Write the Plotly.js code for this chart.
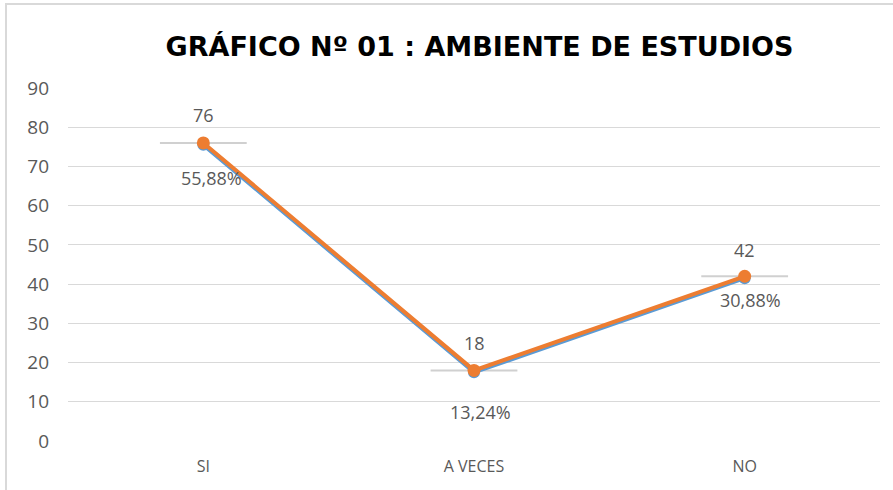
<!DOCTYPE html>
<html><head><meta charset="utf-8">
<script src="https://cdn.plot.ly/plotly-3.0.1.min.js"></script>
<style>
html,body{margin:0;padding:0;background:#fff;}
#frame{position:absolute;left:5px;top:3px;width:900px;height:500px;border-left:2px solid #d9d9d9;border-top:2px solid #d9d9d9;}
#chart{position:absolute;left:0;top:0;width:893px;height:490px;}
</style></head>
<body>
<div id="frame"></div>
<div id="chart"></div>
<script>
const categories = ["SI", "A VECES", "NO"];
const counts = [76, 18, 42];
const percentLabels = ["55,88%", "13,24%", "30,88%"];
const yTicks = [0, 10, 20, 30, 40, 50, 60, 70, 80, 90];

// label offsets (style)
const countShift = [28, 27, 26];
const pctShift = [-35, -42, -24];
const pctXShift = [8, 6, 6];

const txtColor = "#595959";
const fontFam = "Open Sans, sans-serif";
const traces = [
  {x: categories, y: counts, type: "scatter", mode: "markers", yaxis: "y",
   marker: {symbol: "line-ew-open", size: 62, color: "#d0d0d0", line: {color: "#d0d0d0", width: 2}}, hoverinfo: "skip"},
  {x: categories, y: counts, type: "scatter", mode: "lines+markers", yaxis: "y2",
   line: {color: "#5B9BD5", width: 4}, marker: {color: "#5B9BD5", size: 12}, hoverinfo: "skip"},
  {x: categories, y: counts, type: "scatter", mode: "lines+markers", yaxis: "y3",
   line: {color: "#ED7D31", width: 4}, marker: {color: "#ED7D31", size: 13}}
];

const annotations = [];
categories.forEach((c, i) => {
  annotations.push({x: c, y: counts[i], text: String(counts[i]), showarrow: false,
    yshift: countShift[i], font: {family: fontFam, size: 18, color: txtColor}});
  annotations.push({x: c, y: counts[i], text: percentLabels[i], showarrow: false,
    yshift: pctShift[i], xshift: pctXShift[i], font: {family: fontFam, size: 18, color: txtColor}});
});

const layout = {
  width: 893, height: 490,
  margin: {l: 68, r: 13, t: 88, b: 49},
  paper_bgcolor: "rgba(0,0,0,0)", plot_bgcolor: "rgba(0,0,0,0)",
  showlegend: false,
  title: {text: "<b>GRÁFICO Nº 01 : AMBIENTE DE ESTUDIOS</b>", x: 0.537, xanchor: "center", y: 0.905, yanchor: "middle",
    font: {family: "DejaVu Sans, sans-serif", size: 27, color: "#000"}},
  xaxis: {type: "category", range: [-0.5, 2.5], showgrid: false, zeroline: false, showline: false,
    ticks: "", ticklabelstandoff: 14,
    tickfont: {family: fontFam, size: 16, color: txtColor}},
  yaxis: {range: [0, 90], tickvals: yTicks, showgrid: true, gridcolor: "#d9d9d9", gridwidth: 1,
    zeroline: false, showline: false, ticks: "", ticklabelstandoff: 18,
    tickfont: {family: fontFam, size: 19, color: txtColor}},
  yaxis2: {range: [0.5, 90.5], overlaying: "y", visible: false},
  yaxis3: {range: [0, 90], overlaying: "y", visible: false},
  annotations: annotations
};
Plotly.newPlot("chart", traces, layout, {displayModeBar: false, staticPlot: true});
</script>
</body></html>
